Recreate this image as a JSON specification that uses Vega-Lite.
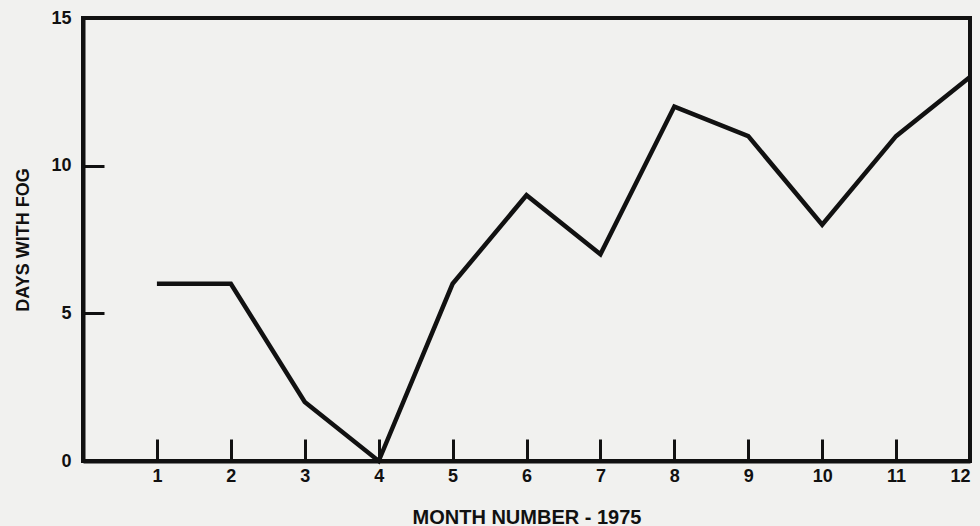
{
  "$schema": "https://vega.github.io/schema/vega-lite/v6.json",
  "width": 887,
  "height": 443,
  "autosize": "none",
  "padding": {"left": 83, "top": 18, "right": 10, "bottom": 65},
  "background": "#f1f1ef",
  "config": {
    "view": {"stroke": "#111", "strokeWidth": 4},
    "font": "Liberation Sans",
    "axis": {"grid": false, "domainColor": "#111", "domainWidth": 4, "tickColor": "#111", "tickWidth": 3, "labelColor": "#111", "titleColor": "#111", "labelFont": "Liberation Sans", "titleFont": "Liberation Sans", "labelFontWeight": "bold", "titleFontWeight": "bold"}
  },
  "data": {"values": [
    {"month": 1, "days": 6},
    {"month": 2, "days": 6},
    {"month": 3, "days": 2},
    {"month": 4, "days": 0},
    {"month": 5, "days": 6},
    {"month": 6, "days": 9},
    {"month": 7, "days": 7},
    {"month": 8, "days": 12},
    {"month": 9, "days": 11},
    {"month": 10, "days": 8},
    {"month": 11, "days": 11},
    {"month": 12, "days": 13}
  ]},
  "mark": {"type": "line", "color": "#111", "strokeWidth": 4.5, "strokeJoin": "miter"},
  "encoding": {
    "x": {"field": "month", "type": "quantitative", "scale": {"domain": [0, 12], "nice": false, "zero": false},
      "axis": {"title": "MONTH NUMBER - 1975", "values": [1,2,3,4,5,6,7,8,9,10,11,12], "tickSize": -22, "labelPadding": 28, "labelFontSize": 18, "labelAngle": 0, "titleFontSize": 20, "titlePadding": 22}},
    "y": {"field": "days", "type": "quantitative", "scale": {"domain": [0, 15], "nice": false},
      "axis": {"title": "DAYS WITH FOG", "values": [0,5,10,15], "tickSize": -21, "labelPadding": 33, "labelFontSize": 18, "titlePadding": 18, "titleFontSize": 18, "labelBaseline": "middle"}}
  }
}
